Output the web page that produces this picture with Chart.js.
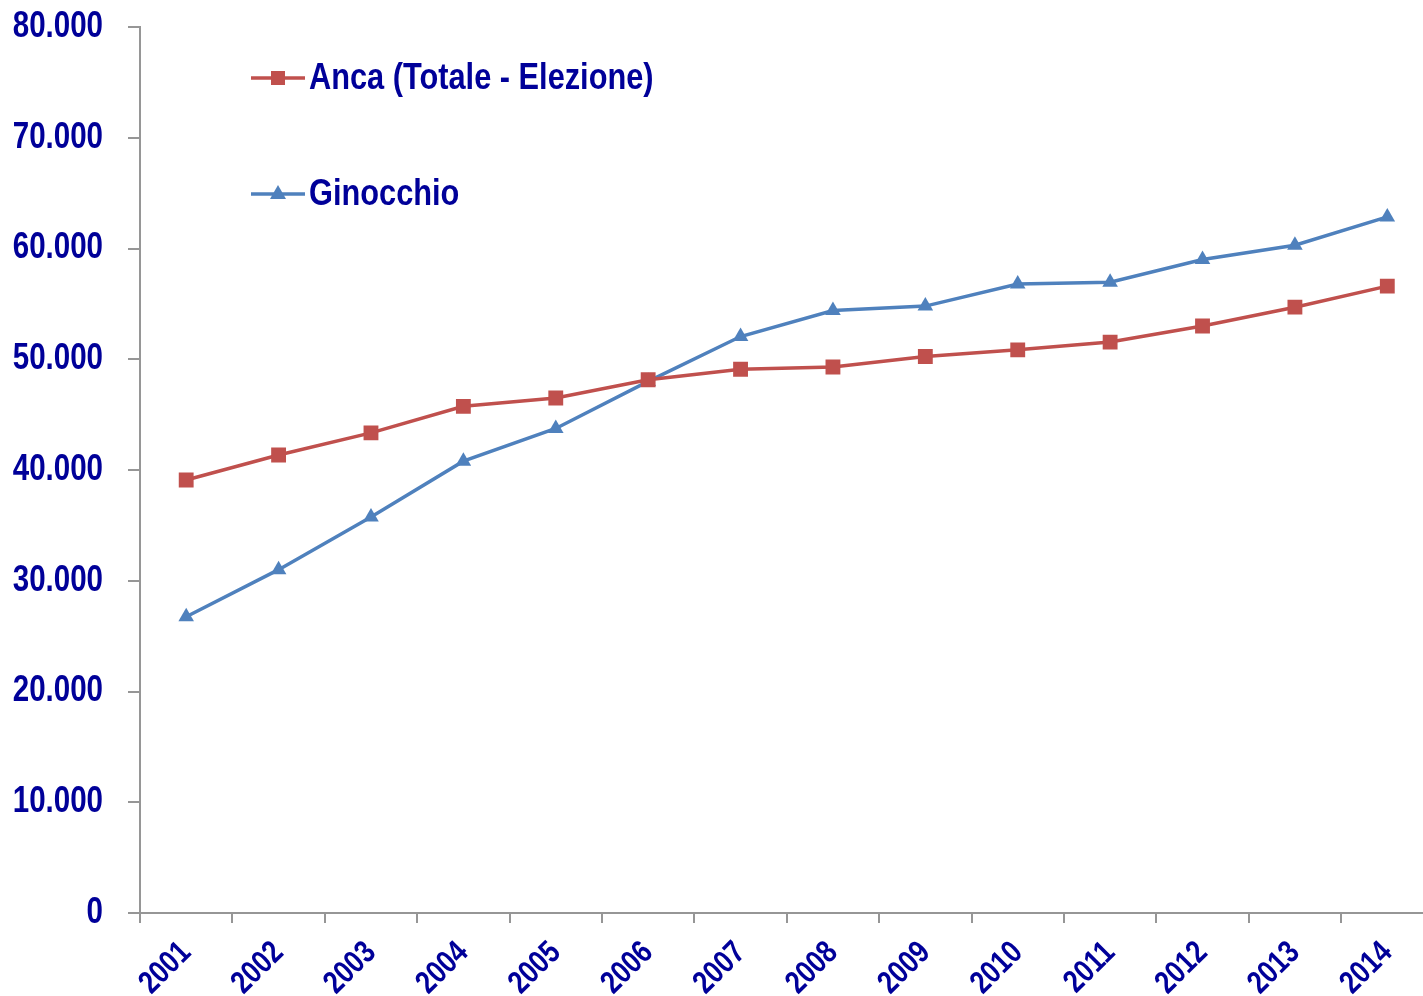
<!DOCTYPE html>
<html>
<head>
<meta charset="utf-8">
<script src="https://cdn.jsdelivr.net/npm/chart.js@4.4.1/dist/chart.umd.min.js"></script>
<style>
html,body{margin:0;padding:0;background:#fff;overflow:hidden;}
#wrap{width:1423px;height:996px;position:relative;overflow:hidden;}
#c{display:block;}
</style>
</head>
<body>
<div id="wrap"><canvas id="c" width="1444" height="996"></canvas></div>
<script>
const years = ['2001','2002','2003','2004','2005','2006','2007','2008','2009','2010','2011','2012','2013','2014'];
const anca = [39100, 41350, 43350, 45750, 46500, 48150, 49100, 49300, 50250, 50850, 51550, 53000, 54700, 56600];
const ginocchio = [26750, 31000, 35750, 40800, 43750, 48000, 52050, 54400, 54800, 56800, 56950, 59000, 60300, 62850];
const seriesNames = ['Anca (Totale - Elezione)', 'Ginocchio'];
const yTicksMax = 80000;
const yStep = 10000;

const FONT = "'Liberation Sans', Arial, sans-serif";
const NARROW = 0.82; // emulate a narrow (condensed) bold face
const TEXT = '#000099';
const AXIS = '#969696';
const RED = '#C0504D';
const BLUE = '#4F81BD';

function fmt(v){
  if (v === 0) return '0';
  return String(v).replace(/\B(?=(\d{3})+(?!\d))/g, '.');
}

const canvas = document.getElementById('c');
const ctx2d = canvas.getContext('2d');
const origFill = ctx2d.fillText.bind(ctx2d);
ctx2d.fillText = function(text, x, y, maxWidth){
  ctx2d.save();
  ctx2d.translate(x, y);
  ctx2d.scale(NARROW, 1);
  if (maxWidth !== undefined) origFill(text, 0, 0, maxWidth / NARROW);
  else origFill(text, 0, 0);
  ctx2d.restore();
};

const zeroPad = () => ({left: 0, top: 0, right: 0, bottom: 0});

const legendPlugin = {
  id: 'customLegend',
  afterDraw(chart){
    const ctx = chart.ctx;
    const items = [
      {text: seriesNames[0], color: RED, style: 'rect', y: 78},
      {text: seriesNames[1], color: BLUE, style: 'triangle', y: 194}
    ];
    ctx.save();
    items.forEach(it => {
      ctx.strokeStyle = it.color;
      ctx.fillStyle = it.color;
      ctx.lineWidth = 3.5;
      ctx.beginPath();
      ctx.moveTo(251, it.y);
      ctx.lineTo(305, it.y);
      ctx.stroke();
      const cx = 278;
      if (it.style === 'rect') {
        ctx.fillRect(cx - 7, it.y - 7, 14, 14);
      } else {
        ctx.beginPath();
        ctx.moveTo(cx, it.y - 9);
        ctx.lineTo(cx + 8, it.y + 5);
        ctx.lineTo(cx - 8, it.y + 5);
        ctx.closePath();
        ctx.fill();
      }
      ctx.fillStyle = TEXT;
      ctx.font = "bold 37.5px " + FONT;
      ctx.textBaseline = 'middle';
      ctx.textAlign = 'left';
      ctx.fillText(it.text, 309, it.y + 1);
    });
    ctx.restore();
  }
};

new Chart(canvas, {
  type: 'line',
  data: {
    labels: years,
    datasets: [
      {
        label: seriesNames[0],
        data: anca,
        borderColor: RED,
        backgroundColor: RED,
        borderWidth: 3.5,
        pointStyle: 'rect',
        pointRadius: 10.5,
        pointHoverRadius: 10.5,
        pointBorderWidth: 0,
        tension: 0
      },
      {
        label: seriesNames[1],
        data: ginocchio,
        borderColor: BLUE,
        backgroundColor: BLUE,
        borderWidth: 3.5,
        pointStyle: 'triangle',
        pointRadius: 9,
        pointHoverRadius: 9,
        pointBorderWidth: 0,
        tension: 0
      }
    ]
  },
  options: {
    responsive: false,
    animation: false,
    events: [],
    layout: { padding: { top: 27, right: 2, left: 0, bottom: 0 } },
    plugins: { legend: { display: false }, tooltip: { enabled: false } },
    scales: {
      x: {
        type: 'category',
        offset: true,
        grid: { display: true, offset: true, drawOnChartArea: false, drawTicks: true, tickLength: 10, color: AXIS, lineWidth: 2 },
        border: { display: true, color: AXIS, width: 2 },
        ticks: {
          color: TEXT,
          font: { family: FONT, size: 32, weight: 'bold' },
          minRotation: 45,
          maxRotation: 45,
          autoSkip: false,
          padding: 11
        },
        afterFit(scale){
          scale.height = 83;
          scale.paddingLeft = 0; scale.paddingRight = 0;
          scale.getPadding = zeroPad;
        }
      },
      y: {
        min: 0,
        max: yTicksMax,
        grid: { display: true, drawOnChartArea: false, drawTicks: true, tickLength: 12, color: AXIS, lineWidth: 2 },
        border: { display: true, color: AXIS, width: 2 },
        ticks: {
          stepSize: yStep,
          color: TEXT,
          font: { family: FONT, size: 36, weight: 'bold' },
          padding: 25,
          callback: (v) => fmt(v)
        },
        afterFit(scale){
          scale.width = 140;
          scale.paddingTop = 0; scale.paddingBottom = 0;
          scale.getPadding = zeroPad;
        }
      }
    }
  },
  plugins: [legendPlugin]
});
</script>
</body>
</html>
